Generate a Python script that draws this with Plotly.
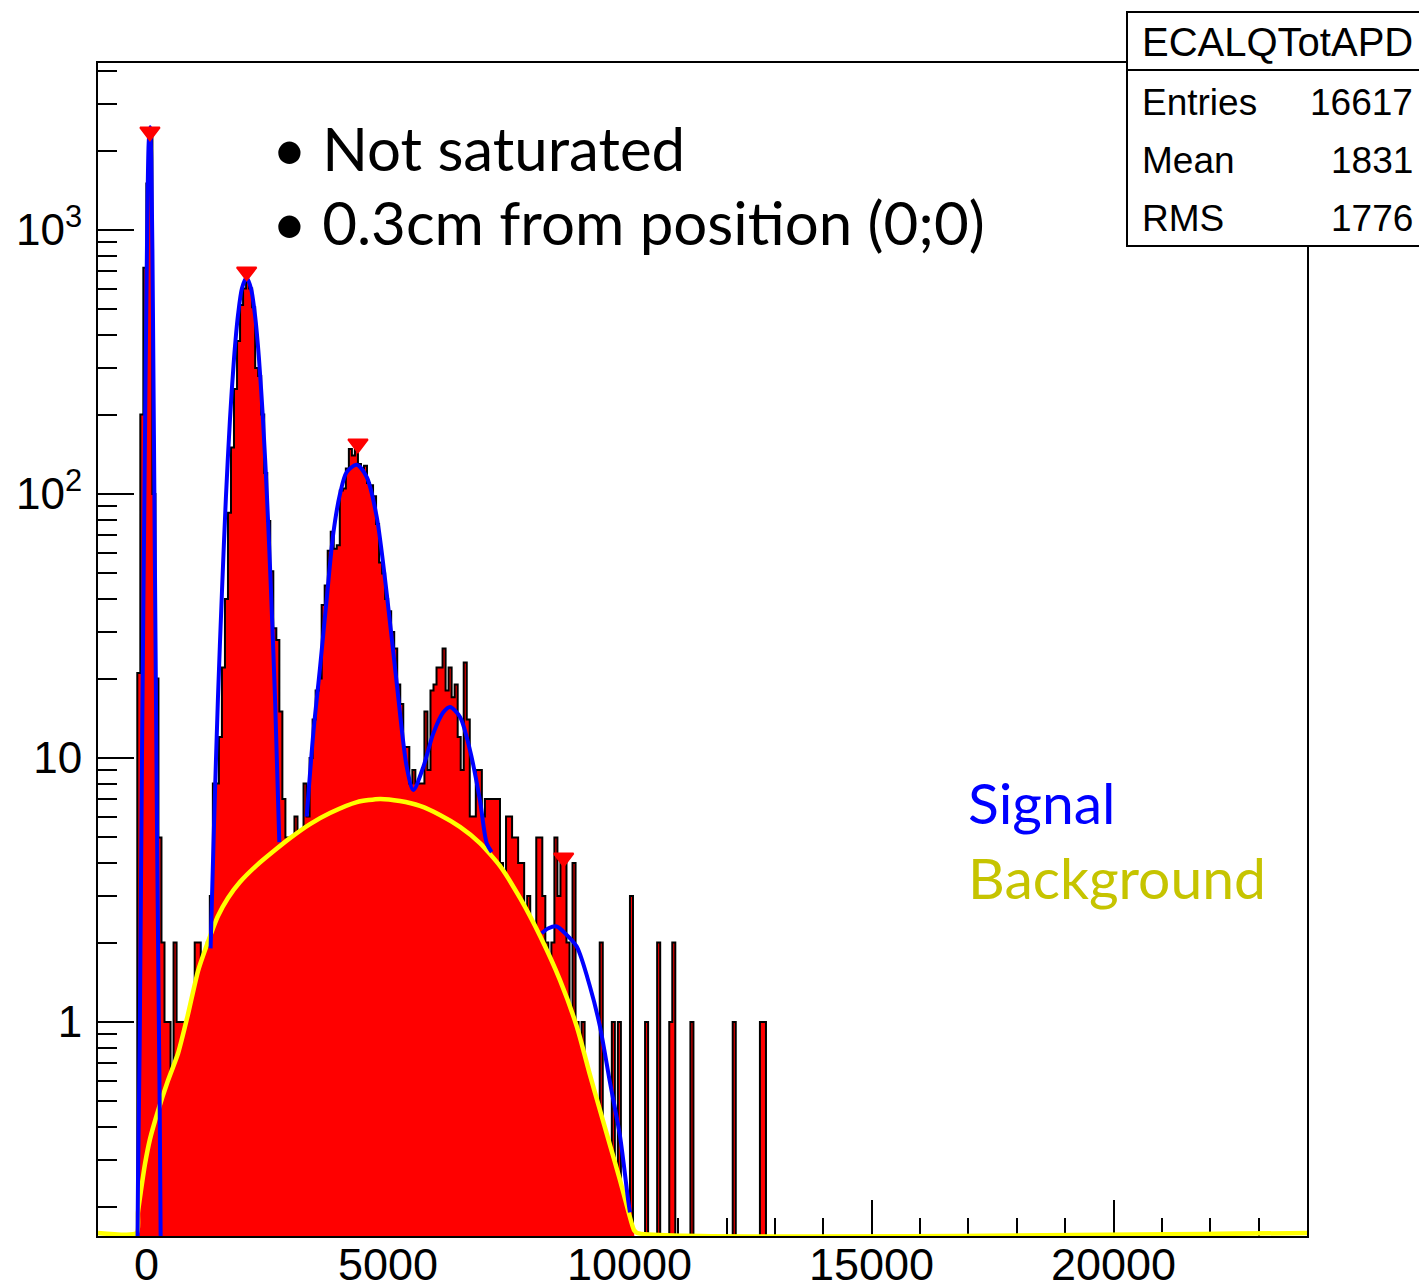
import numpy as np
import plotly.graph_objects as go

# ---------------------------------------------------------------------------
# Histogram of ECALQTotAPD: 400 bins over [-1000, 24000]; counts listed from
# the first filled bin (left edge -187.5) onwards, bins after the list are 0.
# ---------------------------------------------------------------------------
BIN_WIDTH = 62.5
FIRST_EDGE = -187.5
bin_counts = [
    21, 200, 720, 1500, 2300, 100, 20, 5, 2, 1,
    1, 0, 2, 1, 1, 1, 1, 0, 0, 2,
    2, 1, 1, 2, 3, 8, 8, 12, 22, 40,
    85, 150, 250, 380, 520, 600, 640, 600, 510, 300,
    280, 200, 120, 79, 51, 31, 28, 15, 7, 5,
    2, 4, 6, 3, 5, 8, 6, 10, 14, 18,
    20, 38, 45, 61, 72, 62, 64, 103, 105, 125,
    148, 140, 155, 130, 125, 128, 110, 108, 98, 77,
    55, 50, 40, 36, 30, 26, 19, 16, 11, 11,
    8, 9, 8, 8, 8, 15, 9, 18, 19, 22,
    22, 26, 18, 22, 17, 19, 12, 9, 23, 14,
    6, 6, 9, 9, 6, 7, 7, 7, 7, 7,
    4, 3, 6, 6, 5, 5, 4, 4, 2, 3,
    1, 2, 5, 5, 3, 2, 1, 2, 5, 3,
    4, 4, 2, 1, 4, 1, 0, 1, 0, 0,
    0, 0, 0, 2, 0, 0, 0, 1, 0, 1,
    0, 0, 0, 3, 0, 0, 0, 0, 1, 0,
    0, 0, 2, 0, 0, 0, 1, 2, 0, 0,
    0, 0, 0, 1, 0, 0, 0, 0, 0, 0,
    0, 0, 0, 0, 0, 0, 0, 1, 0, 0,
    0, 0, 0, 0, 0, 0, 1, 1,
]

# Peaks found by the peak search (red markers)
peak_x = [74, 2074, 4376, 8629]
peak_y = [2356, 695, 155, 4.19]

# Estimated background (0 outside its support)
bg_x = [-1000, -200, -173, -111, -28, 75, 241, 447, 654, 861,
        1068, 1274, 1481, 1688, 1936, 2288, 2660, 2970, 3384, 3797,
        4355, 4831, 5244, 5658, 6071, 6485, 6898, 7312, 7726, 8139,
        8553, 8904, 9173, 9380, 9587, 9794, 9959, 10083, 10150, 24000]
bg_y = [0, 0, 0.19, 0.23, 0.29, 0.36, 0.46, 0.60, 0.76, 1.07,
        1.56, 2.01, 2.52, 2.95, 3.39, 3.93, 4.48, 4.97, 5.62, 6.19,
        6.81, 7.00, 6.87, 6.58, 6.08, 5.48, 4.76, 3.90, 2.95, 2.12,
        1.44, 0.957, 0.63, 0.464, 0.342, 0.252, 0.194, 0.163, 0, 0]

# Signal fits, one per fit range
sig1_x = [-190, -173, -138, -90, -34, 13, 48, 75, 102, 137, 172, 220, 255, 276, 303]
sig1_y = [0.10, 0.25, 0.83, 10.4, 130, 870, 2140, 2450, 1860, 464, 70, 5.5, 1.14, 0.47, 0.10]

sig2_x = [1328, 1398, 1481, 1564, 1646, 1729, 1812, 1895, 1977, 2070,
          2163, 2246, 2329, 2411, 2494, 2577, 2660, 2749]
sig2_y = [1.9, 5.5, 17, 43, 98, 192, 325, 476, 602, 660,
          602, 476, 325, 192, 98, 43, 17, 4.8]

sig3_x = [3316, 3452, 3591, 3729, 3866, 4004, 4142, 4349, 4556, 4763,
          4970, 5177, 5384, 5520, 5727, 5934, 6140, 6279, 6486, 6692,
          6899, 7037, 7141]
sig3_y = [6.0, 12.4, 22, 40, 71, 100, 121, 129, 116, 82,
          42, 19.2, 9.25, 7.57, 9.25, 12.4, 14.9, 15.6, 14.3, 10.7,
          6.9, 4.76, 4.4]

sig4_x = [8175, 8306, 8486, 8678, 8899, 9174, 9380, 9587, 9794, 9965, 10000]
sig4_y = [2.17, 2.26, 2.30, 2.15, 1.93, 1.36, 0.96, 0.59, 0.37, 0.21, 0.19]

x_major = [0, 5000, 10000, 15000, 20000]
x_labels = ["0", "5000", "10000", "15000", "20000"]
y_major = [1, 10, 100, 1000]
y_labels = ["1", "10", "10<sup>2</sup>", "10<sup>3</sup>"]

stats_title = "ECALQTotAPD"
stats_names = ["Entries", "Mean", "RMS"]
stats_values = ["16617", "1831", "1776"]

# ---------------------------------------------------------------------------
# Geometry of the canvas
# ---------------------------------------------------------------------------
W, H = 1419, 1287
PL, PR, PT, PB = 98, 1307, 63, 1236          # plot frame in pixels
X_RANGE = [-1000, 24000]
PX_PER_DECADE = 264.0
Y_LOG_MAX = 3 + (230 - PT) / PX_PER_DECADE
Y_LOG_MIN = Y_LOG_MAX - (PB - PT) / PX_PER_DECADE


def paper_x(px):
    return (px - PL) / (PR - PL)


def paper_y(py):
    return (PB - py) / (PB - PT)


OFF_AXIS = 1e-3                                        # below the visible range
AT_FLOOR = 10 ** (Y_LOG_MIN + 3.0 / PX_PER_DECADE)      # sits on the bottom edge

RED = "rgb(255,0,0)"
BLUE = "rgb(0,0,255)"
YELLOW = "rgb(255,255,0)"
OLIVE = "rgb(198,196,0)"
HUMANIST = "Lato, 'Open Sans', sans-serif"
HELV = "'Liberation Sans', Arial, sans-serif"

fig = go.Figure()

# Histogram as a filled staircase
counts = np.array(bin_counts, dtype=float)
edges = FIRST_EDGE + BIN_WIDTH * np.arange(len(counts) + 1)
heights = np.where(counts > 0, counts, OFF_AXIS)
hx = [edges[0]]
hy = [OFF_AXIS]
for i, h in enumerate(heights):
    hx += [edges[i], edges[i + 1]]
    hy += [h, h]
hx.append(edges[-1])
hy.append(OFF_AXIS)
fig.add_trace(go.Scatter(
    x=hx, y=hy, mode="lines", fill="toself", fillcolor=RED,
    line=dict(color="black", width=2), hoverinfo="skip", showlegend=False))

# Background: red area under a yellow line (zero background lies on the floor)
fill_y = [v if v > 0 else OFF_AXIS for v in bg_y]
line_y = [v if v > 0 else AT_FLOOR for v in bg_y]
fig.add_trace(go.Scatter(
    x=bg_x, y=fill_y, mode="lines", fill="toself", fillcolor=RED,
    line=dict(width=0, color=RED, shape="spline", smoothing=0.6),
    hoverinfo="skip", showlegend=False))
fig.add_trace(go.Scatter(
    x=bg_x, y=line_y, mode="lines", line=dict(color=YELLOW, width=4.5, shape="spline", smoothing=0.6),
    hoverinfo="skip", showlegend=False))

# Signal fits
for sx, sy in [(sig1_x, sig1_y), (sig2_x, sig2_y), (sig3_x, sig3_y), (sig4_x, sig4_y)]:
    fig.add_trace(go.Scatter(
        x=sx, y=sy, mode="lines",
        line=dict(color=BLUE, width=4, shape="spline", smoothing=0.8),
        hoverinfo="skip", showlegend=False))

# Peak markers
fig.add_trace(go.Scatter(
    x=peak_x, y=peak_y, mode="markers",
    marker=dict(symbol="triangle-down", size=17, color=RED, line=dict(color=RED, width=2)),
    hoverinfo="skip", showlegend=False))

x_minor = [v for v in range(-1000, 24001, 1000) if v % 5000 != 0]
y_minor = [m * 10 ** e for e in range(-1, 4) for m in range(2, 10) if m * 10 ** e < 10 ** Y_LOG_MAX]

fig.update_layout(
    width=W, height=H,
    margin=dict(l=PL, r=W - PR, t=PT, b=H - PB, pad=0),
    paper_bgcolor="white", plot_bgcolor="white",
    showlegend=False,
    xaxis=dict(
        range=X_RANGE, showgrid=False, zeroline=False, automargin=False,
        showline=True, linecolor="black", linewidth=2, mirror=True,
        ticks="inside", ticklen=36, tickwidth=1.5, tickcolor="black",
        tickmode="array", tickvals=x_major, showticklabels=False,
        minor=dict(ticks="inside", ticklen=18, tickwidth=1.5, tickcolor="black",
                   tickmode="array", tickvals=x_minor, showgrid=False),
        layer="below traces",
    ),
    yaxis=dict(
        type="log", range=[Y_LOG_MIN, Y_LOG_MAX], showgrid=False, zeroline=False,
        automargin=False,
        showline=True, linecolor="black", linewidth=2, mirror=True,
        ticks="inside", ticklen=36, tickwidth=1.5, tickcolor="black",
        tickmode="array", tickvals=y_major, ticktext=y_labels,
        tickfont=dict(family=HELV, size=44, color="black"),
        ticklabelstandoff=5,
        minor=dict(ticks="inside", ticklen=19, tickwidth=1.5, tickcolor="black",
                   tickmode="array", tickvals=y_minor, showgrid=False),
        layer="below traces",
    ),
)

# x tick labels, placed just under the frame
for v, lab in zip(x_major, x_labels):
    fig.add_annotation(xref="x", yref="paper", x=v, y=paper_y(1264), text=lab,
                       showarrow=False, xanchor="center", yanchor="middle",
                       font=dict(family=HELV, size=45, color="black"))

# Statistics box
fig.add_shape(type="rect", xref="paper", yref="paper",
              x0=paper_x(1127), x1=paper_x(1432), y0=paper_y(246), y1=paper_y(12),
              line=dict(color="black", width=2), fillcolor="white", layer="above")
fig.add_shape(type="line", xref="paper", yref="paper",
              x0=paper_x(1127), x1=paper_x(1432), y0=paper_y(70), y1=paper_y(70),
              line=dict(color="black", width=2), layer="above")
fig.add_annotation(xref="paper", yref="paper", x=paper_x(1277), y=paper_y(42),
                   text=stats_title, showarrow=False, xanchor="center", yanchor="middle",
                   font=dict(family=HELV, size=40, color="black"))
for k, (name, val) in enumerate(zip(stats_names, stats_values)):
    yy = paper_y(102 + 58.5 * k)
    fig.add_annotation(xref="paper", yref="paper", x=paper_x(1140), y=yy, text=name,
                       showarrow=False, xanchor="left", yanchor="middle",
                       font=dict(family=HELV, size=37, color="black"))
    fig.add_annotation(xref="paper", yref="paper", x=paper_x(1415), y=yy, text=val,
                       showarrow=False, xanchor="right", yanchor="middle",
                       font=dict(family=HELV, size=37, color="black"))

# Notes on the selection
fig.add_annotation(xref="paper", yref="paper", x=paper_x(270), y=paper_y(148),
                   text="\u2022 Not saturated", showarrow=False, xanchor="left", yanchor="middle",
                   font=dict(family=HUMANIST, size=60, color="black"))
fig.add_annotation(xref="paper", yref="paper", x=paper_x(270), y=paper_y(222),
                   text="\u2022 0.3cm from position (0;0)", showarrow=False, xanchor="left",
                   yanchor="middle", font=dict(family=HUMANIST, size=60, color="black"))

# Curve labels
fig.add_annotation(xref="paper", yref="paper", x=paper_x(966), y=paper_y(802),
                   text="Signal", showarrow=False, xanchor="left", yanchor="middle",
                   font=dict(family=HUMANIST, size=57, color=BLUE))
fig.add_annotation(xref="paper", yref="paper", x=paper_x(966), y=paper_y(877),
                   text="Background", showarrow=False, xanchor="left", yanchor="middle",
                   font=dict(family=HUMANIST, size=57, color=OLIVE))

fig.write_html("out.html")
